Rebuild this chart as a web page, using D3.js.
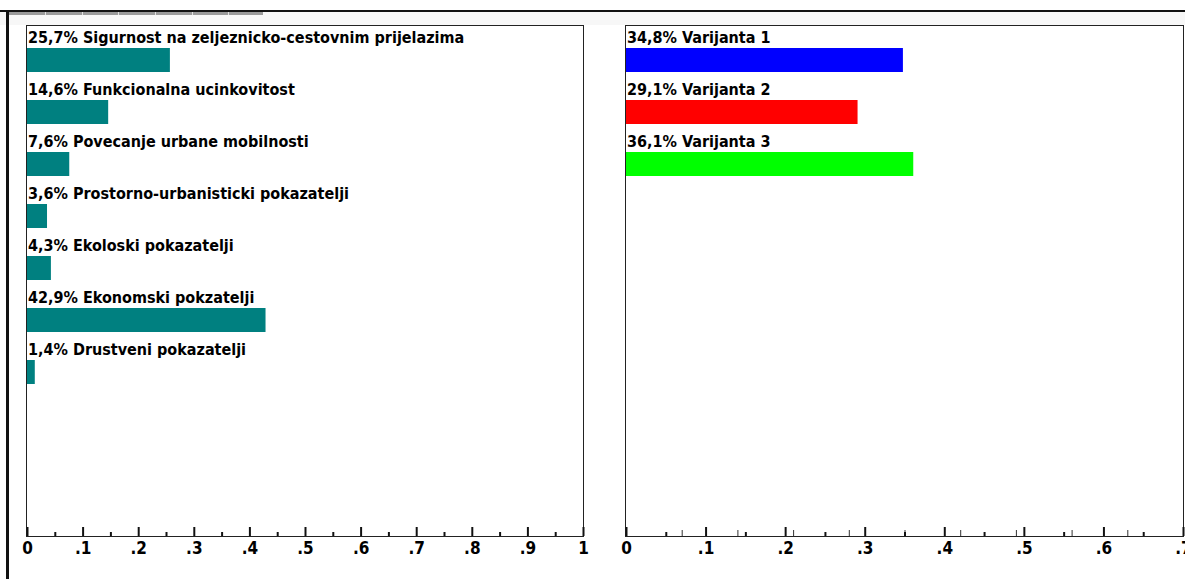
<!DOCTYPE html>
<html>
<head>
<meta charset="utf-8">
<script src="https://cdnjs.cloudflare.com/ajax/libs/d3/7.8.5/d3.min.js"></script>
<style>
  html, body { margin: 0; padding: 0; background: #fff; }
  svg text { font-family: "DejaVu Sans Condensed", "DejaVu Sans", sans-serif; font-weight: bold; }
</style>
</head>
<body>
<svg id="chart" width="1185" height="579"></svg>
<script>
// criteria weights (left panel)
var criteria = [
    "Sigurnost na zeljeznicko-cestovnim prijelazima",
    "Funkcionalna ucinkovitost",
    "Povecanje urbane mobilnosti",
    "Prostorno-urbanisticki pokazatelji",
    "Ekoloski pokazatelji",
    "Ekonomski pokzatelji",
    "Drustveni pokazatelji"
];
var criteriaWeights = [0.257, 0.146, 0.076, 0.036, 0.043, 0.429, 0.014];

// variant scores (right panel)
var variants = ["Varijanta 1", "Varijanta 2", "Varijanta 3"];
var variantScores = [0.348, 0.291, 0.361];
var variantColors = ["#0000ff", "#ff0000", "#00ff00"];

var leftTicks = [0, 0.1, 0.2, 0.3, 0.4, 0.5, 0.6, 0.7, 0.8, 0.9, 1];
var rightTicks = [0, 0.1, 0.2, 0.3, 0.4, 0.5, 0.6, 0.7];

var svg = d3.select("#chart");

// window chrome: top rule, tab strip, left border
svg.append("rect").attr("x", 0).attr("y", 12).attr("width", 1185).attr("height", 13).attr("fill", "#f7f7f7");
svg.append("rect").attr("x", 8).attr("y", 12).attr("width", 255).attr("height", 3).attr("fill", "#9a9a9a");
svg.selectAll(".tabsep").data([45, 82, 118, 155, 192, 228]).enter().append("rect")
    .attr("x", function(d) { return d; }).attr("y", 12).attr("width", 1).attr("height", 3).attr("fill", "#e0e0e0");
svg.append("rect").attr("x", 0).attr("y", 10).attr("width", 1185).attr("height", 2).attr("fill", "#111");
svg.append("rect").attr("x", 6).attr("y", 10).attr("width", 3).attr("height", 569).attr("fill", "#111");

var boxTop = 25, axisY = 536, rowStep = 52;

function pctLabel(v) {
    return d3.format(".1f")(v * 100).replace(".", ",") + "% ";
}
function tickLabel(v) {
    if (v === 0) return "0";
    if (v === 1) return "1";
    return d3.format(".1f")(v).replace(/^0/, "");
}

function panel(opts) {
    var g = svg.append("g");
    var x = d3.scaleLinear().domain(opts.domain).range([opts.x0, opts.x1]);
    var y = d3.scaleBand().domain(opts.names).range([boxTop, boxTop + rowStep * opts.names.length]);

    g.append("rect")
        .attr("x", opts.x0 - 0.5).attr("y", boxTop + 0.5)
        .attr("width", opts.boxRight - opts.x0 + 1).attr("height", axisY - boxTop)
        .attr("fill", "#fff").attr("stroke", "#222").attr("stroke-width", 1);

    var rows = g.selectAll(".row").data(opts.names).enter().append("g").attr("class", "row");

    rows.append("rect")
        .attr("x", x(0))
        .attr("y", function(d) { return y(d) + 23; })
        .attr("width", function(d, i) { return x(opts.values[i]) - x(0); })
        .attr("height", 24)
        .attr("fill", function(d, i) { return opts.colors[i % opts.colors.length]; });

    rows.append("text")
        .attr("x", x(0) + 1)
        .attr("y", function(d) { return y(d) + 18; })
        .attr("font-size", "16px")
        .attr("fill", "#000")
        .text(function(d, i) { return pctLabel(opts.values[i]) + d; });

    // thin extra ticks
    if (opts.thinTicks) {
        g.append("g").attr("transform", "translate(0," + axisY + ")")
            .call(d3.axisBottom(x).tickValues(opts.thinTicks).tickSizeInner(-6).tickSizeOuter(0).tickFormat(""))
            .call(function(a) { a.select(".domain").remove(); a.selectAll("line").attr("stroke", "#333").attr("stroke-width", 1); });
    }

    // minor ticks
    g.append("g").attr("transform", "translate(0," + axisY + ")")
        .call(d3.axisBottom(x).tickValues(opts.minor).tickSizeInner(-4).tickSizeOuter(0).tickFormat(""))
        .call(function(a) { a.select(".domain").remove(); a.selectAll("line").attr("stroke", "#111").attr("stroke-width", 2); });

    // major ticks + labels
    var ax = g.append("g").attr("transform", "translate(0," + axisY + ")")
        .call(d3.axisBottom(x).tickValues(opts.ticks).tickSizeInner(-9).tickSizeOuter(0).tickPadding(6).tickFormat(tickLabel));
    ax.select(".domain").remove();
    ax.selectAll("line").attr("stroke", "#111").attr("stroke-width", 2);
    ax.selectAll("text").attr("font-size", "17px").attr("fill", "#000")
        .style("font-family", "'DejaVu Sans Condensed', sans-serif").style("font-weight", "bold");
}

panel({
    names: criteria, values: criteriaWeights, colors: ["#008080"],
    domain: [0, 1], x0: 27, x1: 583, boxRight: 583,
    ticks: leftTicks,
    minor: d3.range(0.05, 1, 0.1)
});

panel({
    names: variants, values: variantScores, colors: variantColors,
    domain: [0, 0.7], x0: 626, x1: 1183, boxRight: 1183,
    ticks: rightTicks,
    minor: d3.range(0.05, 0.7, 0.1),
    thinTicks: d3.range(1, 10).map(function(i) { return i * 0.07; })
});
</script>
</body>
</html>
